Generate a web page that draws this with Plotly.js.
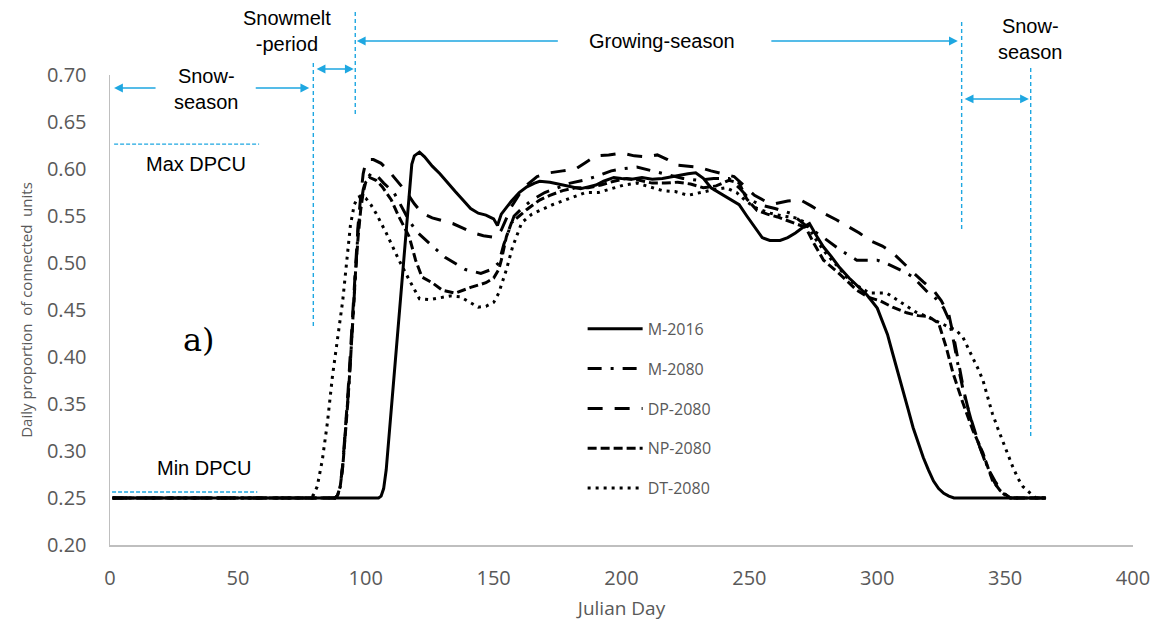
<!DOCTYPE html>
<html>
<head>
<meta charset="utf-8">
<script src="https://cdn.plot.ly/plotly-3.0.1.min.js"></script>
<style>html,body{margin:0;padding:0;background:#fff;}#chart{width:1159px;height:624px;}</style>
</head>
<body>
<div id="chart"></div>
<script>
// ---- Data ----
const seriesNames = ["M-2016", "M-2080", "DP-2080", "NP-2080", "DT-2080"];

const m2016Day = [1,105,106,107,108,110,112,114,116,118,119,121,123,126,129,132,135,138,141,144,147,150,151.5,153,155,157,160,163,166,168,172,177,180,184,187,190,193,197,200,204,208,212,216,220,223,226,229,232,235,238,241,244,246,249,251,253,255,258,262,265,268,271,273.5,276,279,282,285,289,293,296,300,302,304,306,308,310,312,314,316,318,320,322,324,326,328,330,366];
const m2016Val = [0.25,0.25,0.252,0.26,0.28,0.345,0.41,0.475,0.545,0.605,0.614,0.618,0.613,0.603,0.595,0.585,0.576,0.567,0.558,0.553,0.551,0.547,0.540,0.552,0.559,0.566,0.575,0.581,0.585,0.587,0.586,0.583,0.582,0.579,0.581,0.583,0.587,0.591,0.590,0.589,0.591,0.589,0.590,0.592,0.594,0.595,0.596,0.590,0.580,0.575,0.570,0.565,0.562,0.550,0.542,0.535,0.527,0.524,0.524,0.527,0.532,0.538,0.542,0.530,0.517,0.507,0.496,0.484,0.474,0.466,0.452,0.438,0.424,0.404,0.385,0.365,0.345,0.325,0.308,0.293,0.280,0.268,0.260,0.255,0.252,0.25,0.25];

const m2080Day = [1,88,89,90,91,92,93,94,95,96,97,98,99,100,102,104,107,111,114,117,120,125,131,139,145,149,152,154,156,158,161,165,170,175,180,185,190,196,200,206,212,218,224,230,236,242,246,250,254,260,266,272,279,286,292,297,300,304,308,311,314,317,320,323,326,328,330,332,334,336,338,340,342,344,346,348,350,353,366];
const m2080Val = [0.25,0.25,0.253,0.262,0.285,0.318,0.355,0.395,0.445,0.495,0.535,0.56,0.578,0.588,0.595,0.594,0.585,0.575,0.560,0.545,0.533,0.521,0.506,0.493,0.489,0.493,0.500,0.520,0.535,0.550,0.558,0.567,0.575,0.580,0.585,0.588,0.592,0.598,0.600,0.602,0.598,0.594,0.590,0.588,0.590,0.590,0.580,0.568,0.562,0.558,0.553,0.540,0.527,0.513,0.503,0.503,0.503,0.499,0.494,0.490,0.485,0.477,0.468,0.462,0.452,0.440,0.415,0.385,0.360,0.340,0.320,0.305,0.290,0.277,0.266,0.258,0.253,0.25,0.25];

const dp2080Day = [1,88,89,90,91,92,93,94,95,96,97,98,99,100,101,103,106,109,112,116,119,122,126,130,134,138,142,146,151,153,155,157,160,163,167,172,177,182,186,190,195,200,205,210,214,218,222,226,230,235,240,244,248,252,256,260,265,270,274,279,284,288,293,297,302,306,310,314,318,322,325,328,330,332,334,336,338,340,342,344,346,348,350,352,366];
const dp2080Val = [0.25,0.25,0.253,0.262,0.285,0.32,0.36,0.405,0.45,0.50,0.54,0.57,0.595,0.607,0.61,0.61,0.606,0.598,0.588,0.575,0.563,0.553,0.548,0.545,0.542,0.537,0.532,0.529,0.527,0.535,0.548,0.560,0.573,0.583,0.592,0.596,0.598,0.600,0.607,0.614,0.615,0.617,0.614,0.613,0.615,0.610,0.604,0.603,0.602,0.598,0.595,0.592,0.582,0.572,0.566,0.563,0.566,0.567,0.561,0.553,0.546,0.540,0.532,0.524,0.518,0.511,0.500,0.490,0.480,0.471,0.460,0.445,0.420,0.390,0.362,0.340,0.322,0.305,0.290,0.278,0.268,0.260,0.254,0.25,0.25];

const np2080Day = [1,88,89,90,91,92,93,94,95,96,97,98,99,100,101.5,104,106.5,110,113,117,119.5,122,126,130,135,141,147,150,152,153,155,157,160,163,168,172,177,182,187,192,197,202,207,212,217,222,227,232,237,242,246,249,253,257,261,265,269,272,275,279,285,292,297,301,306,311.5,316,320,324,327,329.6,333.5,337.4,341.3,345,348,352,366];
const np2080Val = [0.25,0.25,0.253,0.262,0.283,0.315,0.352,0.395,0.445,0.49,0.527,0.556,0.575,0.586,0.591,0.588,0.581,0.567,0.549,0.528,0.503,0.485,0.479,0.471,0.468,0.474,0.479,0.484,0.493,0.503,0.528,0.543,0.550,0.557,0.567,0.572,0.577,0.580,0.580,0.583,0.587,0.590,0.588,0.585,0.585,0.586,0.584,0.580,0.582,0.588,0.585,0.568,0.556,0.552,0.549,0.545,0.541,0.538,0.522,0.503,0.489,0.471,0.463,0.460,0.453,0.447,0.444,0.443,0.436,0.410,0.383,0.351,0.322,0.298,0.269,0.258,0.25,0.25];

const dt2080Day = [1,78,79.5,81,83,85,87,89,91,92.5,94,95.5,97,98,100,102,104,108,113,117,121,125,129,133,137,141,144,147,150,152,155,157.4,161,165,168,173,178,182,186,191,196,201,206,211,216,221,226,231,236,241,245,249,253,258,263,268,272,276,280,284,288,292,297,303.7,310,315,319.4,324,328.4,331,333.5,335.5,337.4,339.5,341.3,343,345,347,349,351,353,355,357,359.7,362,366];
const dt2080Val = [0.25,0.25,0.253,0.262,0.29,0.33,0.38,0.42,0.46,0.50,0.54,0.562,0.57,0.571,0.569,0.562,0.553,0.532,0.503,0.482,0.462,0.461,0.463,0.465,0.464,0.458,0.453,0.454,0.458,0.468,0.493,0.517,0.543,0.552,0.556,0.562,0.567,0.571,0.575,0.575,0.579,0.583,0.585,0.581,0.577,0.576,0.572,0.575,0.578,0.580,0.575,0.565,0.558,0.553,0.550,0.548,0.543,0.525,0.510,0.498,0.485,0.476,0.468,0.468,0.457,0.448,0.443,0.437,0.432,0.428,0.421,0.410,0.400,0.387,0.3755,0.360,0.340,0.325,0.312,0.297,0.283,0.271,0.262,0.255,0.25,0.25];

const xTickVals = [0,50,100,150,200,250,300,350,400];
const yTickVals = [0.20,0.25,0.30,0.35,0.40,0.45,0.50,0.55,0.60,0.65,0.70];

// ---- Styling ----
const dashes = ["solid", "14px,9px,3px,9px", "15px,12px", "9px,4px", "3px,5px"];
const xs = [m2016Day, m2080Day, dp2080Day, np2080Day, dt2080Day];
const ys = [m2016Val, m2080Val, dp2080Val, np2080Val, dt2080Val];

const traces = seriesNames.map((n, i) => ({
  type: "scatter", mode: "lines", name: n, x: xs[i], y: ys[i],
  legendgroup: "g" + i,
  line: {color: "#000", width: 3, dash: dashes[i]}
}));

const blue = "#1EA7E1";
const fontA = {family: "Liberation Sans, Arial, sans-serif", size: 20, color: "#000"};

function vline(x, y0, y1) {
  return {type: "line", xref: "x", yref: "paper", x0: x, x1: x, y0: y0, y1: y1,
          line: {color: blue, width: 1.4, dash: "4px,3px"}};
}
function hline(x0, x1, y) {
  return {type: "line", xref: "x", yref: "paper", x0: x0, x1: x1, y0: y, y1: y,
          line: {color: blue, width: 1.4, dash: "4px,2px"}};
}
function arrow(xTip, xTail, y, both) {
  return {xref: "x", yref: "paper", axref: "x", ayref: "paper", x: xTip, y: y, ax: xTail, ay: y,
          text: "", showarrow: true, arrowhead: 2, startarrowhead: 2, arrowsize: 1.1, arrowwidth: 1.6,
          arrowcolor: blue, arrowside: both ? "end+start" : "end", standoff: 0, startstandoff: 0};
}
function label(text, x, y, font) {
  return {xref: "x", yref: "paper", x: x, y: y, text: text, showarrow: false,
          xanchor: "center", yanchor: "middle", font: font || fontA};
}

const shapes = [
  vline(79.5, 1.0255, 0.4617),
  vline(95.9, 1.134, 0.9106),
  vline(333, 1.1128, 0.670),
  vline(360, 1.015, 0.2277),
  hline(1.6, 58.3, 0.853),
  hline(0.8, 57.6, 0.1128)
];

const annotations = [
  arrow(1.6, 18.4, 0.9723, false),
  arrow(77.9, 56.4, 0.9723, false),
  label("Snow-<br>season", 37.6, 0.970),
  arrow(95.3, 80.2, 1.0128, true),
  label("Snowmelt<br>-period", 69.3, 1.0936),
  arrow(96.5, 175.7, 1.0723, false),
  arrow(331.5, 258, 1.0723, false),
  label("Growing-season", 216, 1.0723),
  arrow(359.3, 333.6, 0.949, true),
  label("Snow-<br>season", 360, 1.0766),
  label("Max DPCU", 33.7, 0.8106),
  label("Min DPCU", 36.8, 0.1638),
  label("a)", 34.8, 0.436, {family: "DejaVu Serif, Liberation Serif, serif", size: 32, color: "#000"})
];

const gray = "#595959";
const layout = {
  width: 1159, height: 624,
  margin: {l: 110, r: 26, t: 75, b: 79},
  paper_bgcolor: "#fff", plot_bgcolor: "#fff",
  showlegend: true,
  legend: {x: 0.462, y: 0.496, xanchor: "left", yanchor: "top", bgcolor: "rgba(0,0,0,0)",
           font: {family: "Open Sans, sans-serif", size: 16, color: gray},
           itemwidth: 55, tracegroupgap: 16},
  xaxis: {range: [0, 400], tickvals: xTickVals, ticks: "", showgrid: false, zeroline: false,
          showline: true, linecolor: "#BFBFBF", linewidth: 1.5,
          ticklabelstandoff: 14,
          tickfont: {family: "Open Sans, sans-serif", size: 20, color: gray},
          title: {text: "Julian Day", font: {family: "Open Sans, sans-serif", size: 19, color: gray}, standoff: 12}},
  yaxis: {range: [0.2, 0.7], tickvals: yTickVals, tickformat: ".2f", ticks: "", showgrid: false, zeroline: false,
          showline: true, linecolor: "#BFBFBF", linewidth: 1.5,
          ticklabelstandoff: 18,
          tickfont: {family: "Open Sans, sans-serif", size: 20, color: gray},
          title: {text: "Daily proportion  of connected  units", font: {family: "Open Sans, sans-serif", size: 15, color: gray}, standoff: 10}},
  shapes: shapes,
  annotations: annotations
};

Plotly.newPlot("chart", traces, layout, {displayModeBar: false, staticPlot: true});
</script>
</body>
</html>
